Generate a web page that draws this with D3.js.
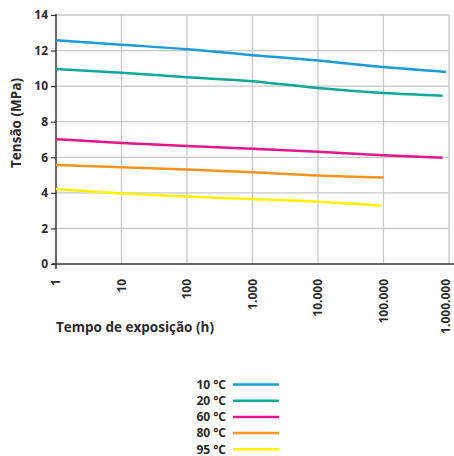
<!DOCTYPE html>
<html>
<head>
<meta charset="utf-8">
<script src="https://cdn.jsdelivr.net/npm/d3@7"></script>
<style>
  body { margin: 0; background: white; }
  text { font-family: "Open Sans", sans-serif; font-weight: 700; fill: #2b2b2b; }
</style>
</head>
<body>
<div id="chart"></div>
<script>
// hours (log scale) and tension (MPa)
var temps = ["10 °C", "20 °C", "60 °C", "80 °C", "95 °C"];
var colors = ["#1b9bd7", "#0fa898", "#e5158a", "#f7941d", "#fff200"];

var hours10 = [1, 10, 100, 1000, 10000, 100000, 900000];
var tension10 = [12.58, 12.33, 12.08, 11.74, 11.44, 11.07, 10.80];

var hours20 = [1, 10, 100, 1000, 10000, 100000, 800000];
var tension20 = [10.96, 10.75, 10.50, 10.28, 9.89, 9.61, 9.46];

var hours60 = [1, 10, 100, 1000, 10000, 100000, 800000];
var tension60 = [7.02, 6.81, 6.63, 6.48, 6.31, 6.12, 5.97];

var hours80 = [1, 10, 100, 1000, 10000, 100000];
var tension80 = [5.56, 5.44, 5.31, 5.16, 4.98, 4.87];

var hours95 = [1, 10, 100, 1000, 10000, 92000];
var tension95 = [4.21, 3.97, 3.79, 3.65, 3.50, 3.28];

var xTicks = [1, 10, 100, 1000, 10000, 100000, 1000000];
var xTickLabels = ["1", "10", "100", "1.000", "10.000", "100.000", "1.000.000"];
var yTicks = [0, 2, 4, 6, 8, 10, 12, 14];

var series = [
  {name: temps[0], color: colors[0], x: hours10, y: tension10},
  {name: temps[1], color: colors[1], x: hours20, y: tension20},
  {name: temps[2], color: colors[2], x: hours60, y: tension60},
  {name: temps[3], color: colors[3], x: hours80, y: tension80},
  {name: temps[4], color: colors[4], x: hours95, y: tension95}
];

var width = 454, height = 456;
var margin = {top: 15, left: 56};
var plotBottom = 264;

var svg = d3.select("#chart").append("svg")
  .attr("width", width)
  .attr("height", height);

var x = d3.scaleLog()
  .domain([1, 1000000])
  .range([margin.left, 449]);

var y = d3.scaleLinear()
  .domain([0, 14])
  .range([plotBottom, margin.top]);

// grid
var grid = svg.append("g").attr("stroke", "#c7c7ca").attr("stroke-width", 1.3);
grid.selectAll("line.h")
  .data(yTicks.slice(1))
  .enter().append("line")
    .attr("x1", x(1)).attr("x2", x(1000000))
    .attr("y1", d => y(d)).attr("y2", d => y(d));
grid.selectAll("line.v")
  .data(xTicks.slice(1))
  .enter().append("line")
    .attr("x1", d => x(d)).attr("x2", d => x(d))
    .attr("y1", y(14)).attr("y2", y(0));

// y axis
var yAxis = svg.append("g")
  .attr("transform", "translate(" + margin.left + ",0)")
  .call(d3.axisLeft(y).tickValues(yTicks).tickSize(5).tickPadding(3));
yAxis.select(".domain").remove();
yAxis.selectAll(".tick line").attr("stroke", "#333").attr("stroke-width", 1.2);
yAxis.selectAll("text").attr("font-size", 12).attr("font-family", null).style("fill", "#2b2b2b");

svg.append("line")
  .attr("x1", margin.left).attr("x2", margin.left)
  .attr("y1", y(14) - 1).attr("y2", plotBottom + 5)
  .attr("stroke", "#333").attr("stroke-width", 1.5);

// x axis
svg.append("line")
  .attr("x1", margin.left - 4).attr("x2", width)
  .attr("y1", plotBottom).attr("y2", plotBottom)
  .attr("stroke", "#333").attr("stroke-width", 1.6);

svg.append("g").selectAll("text")
  .data(xTicks)
  .enter().append("text")
    .attr("transform", (d, i) => "translate(" + (i == xTicks.length - 1 ? x(d) - 3 : x(d)) + "," + (plotBottom + 15) + ") rotate(-90)")
    .attr("text-anchor", "end")
    .attr("dy", "0.35em")
    .attr("font-size", 12)
    .text((d, i) => xTickLabels[i]);

// titles
svg.append("text")
  .attr("transform", "translate(21,123) rotate(-90)")
  .attr("text-anchor", "middle")
  .attr("font-size", 13.5)
  .text("Tensão (MPa)");

svg.append("text")
  .attr("x", 56).attr("y", 332)
  .attr("font-size", 13.5)
  .text("Tempo de exposição (h)");

// lines
var line = d3.line()
  .x(d => x(d[0]))
  .y(d => y(d[1]))
  .curve(d3.curveMonotoneX);

svg.append("g").selectAll("path")
  .data(series)
  .enter().append("path")
    .attr("fill", "none")
    .attr("stroke", d => d.color)
    .attr("stroke-width", 2.5)
    .attr("d", d => line(d.x.map((h, i) => [h, d.y[i]])));

// legend
var legend = svg.append("g").selectAll("g")
  .data(series)
  .enter().append("g")
    .attr("transform", (d, i) => "translate(0," + (384.5 + i * 16.2) + ")");

legend.append("text")
  .attr("x", 226)
  .attr("dy", "0.35em")
  .attr("text-anchor", "end")
  .attr("font-size", 12)
  .text(d => d.name);

legend.append("line")
  .attr("x1", 233).attr("x2", 279)
  .attr("stroke", d => d.color)
  .attr("stroke-width", 2.5);
</script>
</body>
</html>
